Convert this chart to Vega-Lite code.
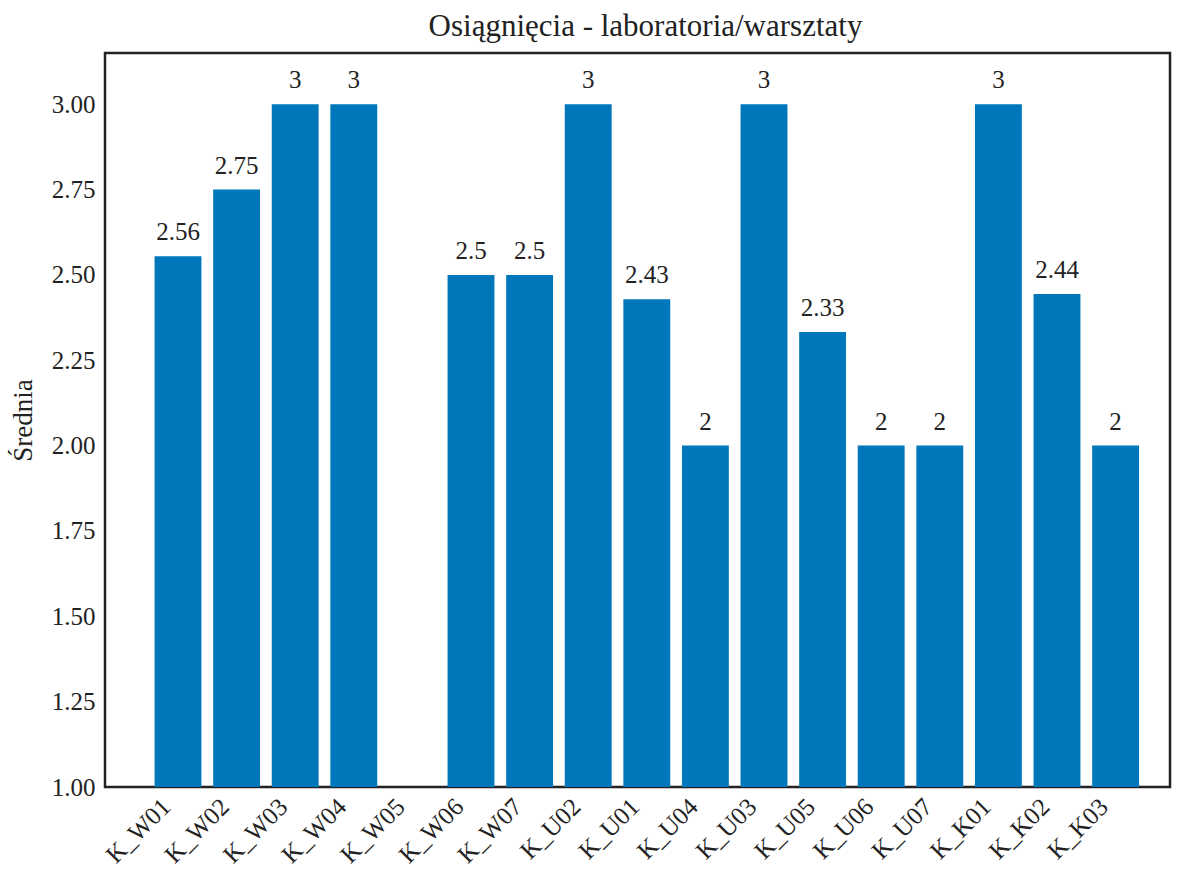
{
  "$schema": "https://vega.github.io/schema/vega-lite/v6.json",
  "autosize": {"type": "none"},
  "width": 1065,
  "height": 734,
  "padding": {"left": 105, "top": 53, "right": 7, "bottom": 82},
  "background": "white",
  "title": {
    "text": "Osiągnięcia - laboratoria/warsztaty",
    "font": "Liberation Serif, serif",
    "fontSize": 31,
    "fontWeight": "normal",
    "color": "#222222",
    "offset": 10,
    "dx": 8,
    "anchor": "middle"
  },
  "config": {
    "view": {"stroke": "#222222", "strokeWidth": 2.5},
    "font": "Liberation Serif, serif",
    "axis": {"labelFont": "Liberation Serif, serif", "titleFont": "Liberation Serif, serif"},
    "text": {"font": "Liberation Serif, serif"}
  },
  "data": {
    "values": [
      {"kod": "K_W01", "srednia": 2.555, "etykieta": "2.56"},
      {"kod": "K_W02", "srednia": 2.75, "etykieta": "2.75"},
      {"kod": "K_W03", "srednia": 3, "etykieta": "3"},
      {"kod": "K_W04", "srednia": 3, "etykieta": "3"},
      {"kod": "K_W05", "srednia": null, "etykieta": null},
      {"kod": "K_W06", "srednia": 2.5, "etykieta": "2.5"},
      {"kod": "K_W07", "srednia": 2.5, "etykieta": "2.5"},
      {"kod": "K_U02", "srednia": 3, "etykieta": "3"},
      {"kod": "K_U01", "srednia": 2.429, "etykieta": "2.43"},
      {"kod": "K_U04", "srednia": 2, "etykieta": "2"},
      {"kod": "K_U03", "srednia": 3, "etykieta": "3"},
      {"kod": "K_U05", "srednia": 2.333, "etykieta": "2.33"},
      {"kod": "K_U06", "srednia": 2, "etykieta": "2"},
      {"kod": "K_U07", "srednia": 2, "etykieta": "2"},
      {"kod": "K_K01", "srednia": 3, "etykieta": "3"},
      {"kod": "K_K02", "srednia": 2.444, "etykieta": "2.44"},
      {"kod": "K_K03", "srednia": 2, "etykieta": "2"}
    ]
  },
  "encoding": {
    "x": {
      "field": "kod",
      "type": "nominal",
      "sort": null,
      "scale": {
        "domain": ["K_W01","K_W02","K_W03","K_W04","K_W05","K_W06","K_W07","K_U02","K_U01","K_U04","K_U03","K_U05","K_U06","K_U07","K_K01","K_K02","K_K03"],
        "range": [43.7, 1039.9],
        "paddingInner": 0.2,
        "paddingOuter": 0.1
      },
      "axis": {
        "title": null,
        "domain": false,
        "ticks": false,
        "labelAngle": -45,
        "labelAlign": "right",
        "labelBaseline": "alphabetic",
        "labelFont": "Liberation Serif, serif",
        "labelFontSize": 25,
        "labelColor": "#222222",
        "labelPadding": 21,
        "labelOffset": -6
      }
    },
    "y": {
      "field": "srednia",
      "type": "quantitative",
      "scale": {"domain": [1, 3.15], "zero": false, "nice": false},
      "axis": {
        "title": "Średnia",
        "titleFont": "Liberation Serif, serif",
        "titleFontSize": 27,
        "titleFontWeight": "normal",
        "titleColor": "#222222",
        "titlePadding": 14,
        "values": [1, 1.25, 1.5, 1.75, 2, 2.25, 2.5, 2.75, 3],
        "format": ".2f",
        "domain": false,
        "ticks": false,
        "grid": false,
        "labelFont": "Liberation Serif, serif",
        "labelFontSize": 25,
        "labelColor": "#222222",
        "labelPadding": 10
      }
    }
  },
  "layer": [
    {
      "mark": {"type": "bar", "color": "#0077BB", "clip": true}
    },
    {
      "mark": {
        "type": "text",
        "baseline": "alphabetic",
        "dy": -16,
        "font": "Liberation Serif, serif",
        "fontSize": 25,
        "color": "#222222"
      },
      "encoding": {"text": {"field": "etykieta", "type": "nominal"}}
    }
  ]
}
